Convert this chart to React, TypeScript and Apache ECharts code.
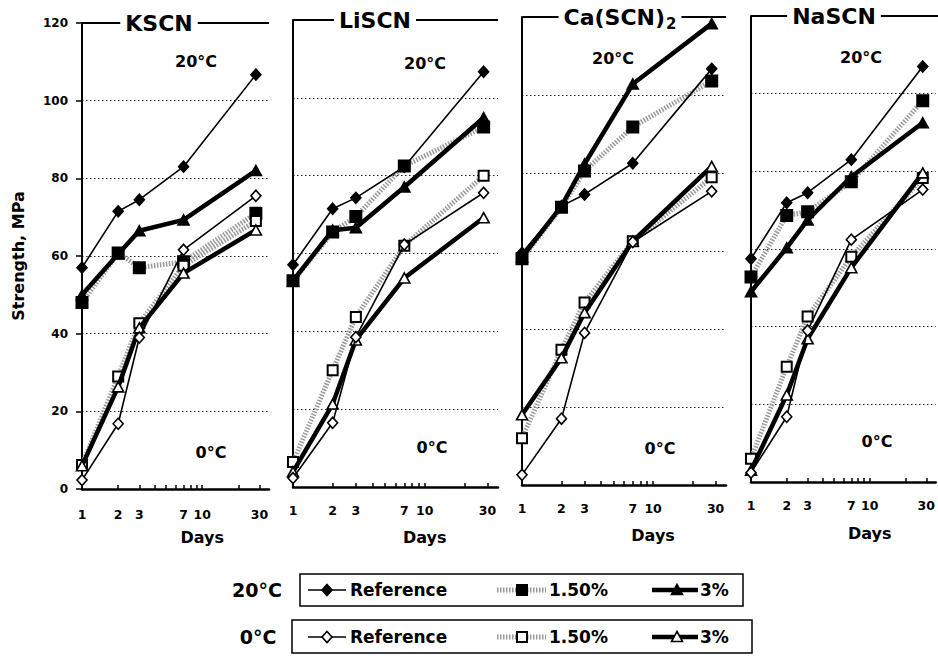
import React, { useEffect, useRef } from "react";
import * as echarts from "echarts";

// Curing age (days) shared by every curve
const days = [1, 2, 3, 7, 28];
const panelNames = ["KSCN", "LiSCN", "Ca(SCN)2", "NaSCN"];
const xTickValues = [1, 2, 3, 4, 5, 6, 7, 8, 9, 10, 20, 30];
const xLabelValues = [1, 2, 3, 7, 10, 30];
const yMin = 0;
const yMax = 120;
const yStep = 20;
const xMax = 36;

// KSCN, strength in MPa
const kscnRef20 = [57, 71.5, 74.5, 83, 106.7];
const kscn15_20 = [48, 60.8, 57, 58.5, 71];
const kscn3_20 = [50, 60.5, 66.5, 69.3, 82];
const kscnRef0 = [2.3, 16.8, 39, 61.6, 75.5];
const kscn15_0 = [6.2, 29, 42.7, 57.5, 69];
const kscn3_0 = [6, 26.3, 41.5, 55.6, 66.7];

// LiSCN
const liscnRef20 = [57.1, 71.5, 74.3, 82.3, 106.7];
const liscn15_20 = [53, 65.5, 69.5, 82.5, 92.5];
const liscn3_20 = [53, 66, 66.6, 77.1, 94.9];
const liscnRef0 = [2.3, 16.5, 38.5, 62.3, 75.6];
const liscn15_0 = [6.4, 30, 43.7, 62, 80];
const liscn3_0 = [3.9, 21.3, 37.8, 53.7, 69.2];

// Ca(SCN)2
const cascnRef20 = [59.5, 71.5, 74.5, 82.5, 106.7];
const cascn15_20 = [58, 71.2, 80.5, 91.8, 103.6];
const cascn3_20 = [58.4, 71.5, 82.3, 102.8, 118.3];
const cascnRef0 = [2.6, 17, 39, 62.3, 75.3];
const cascn15_0 = [12, 34.7, 46.8, 62.5, 78.9];
const cascn3_0 = [18, 32.6, 44.2, 62.5, 81.7];

// NaSCN
const nascnRef20 = [57.5, 71.9, 74.5, 83, 107];
const nascn15_20 = [52.8, 68.6, 69.6, 77.3, 98.2];
const nascn3_20 = [49, 60.3, 67.5, 78.6, 92.5];
const nascnRef0 = [2.4, 16.8, 39, 62.4, 75.3];
const nascn15_0 = [6, 29.7, 42.6, 58, 78.3];
const nascn3_0 = [3, 22.4, 36.9, 55.2, 79.6];

const panelSeries = [
  [kscnRef20, kscn15_20, kscn3_20, kscnRef0, kscn15_0, kscn3_0],
  [liscnRef20, liscn15_20, liscn3_20, liscnRef0, liscn15_0, liscn3_0],
  [cascnRef20, cascn15_20, cascn3_20, cascnRef0, cascn15_0, cascn3_0],
  [nascnRef20, nascn15_20, nascn3_20, nascnRef0, nascn15_0, nascn3_0],
];

// Panel frames and the text placed inside them
const layout = [
  { left: 82, top: 23, width: 187, height: 466, titleX: 159, t20: [196, 61], t0: [211, 452], daysY: 537 },
  { left: 293, top: 20, width: 205, height: 467, titleX: 375, t20: [425, 63], t0: [432, 447], daysY: 537 },
  { left: 522, top: 17, width: 204, height: 468, titleX: 620, t20: [613, 58], t0: [660, 448], daysY: 535 },
  { left: 751, top: 16, width: 187, height: 466, titleX: 834, t20: [861, 57], t0: [877, 441], daysY: 533 },
];

const FONT = '"DejaVu Sans", "Liberation Sans", Arial, sans-serif';
const GRAY = "#999999";
const GRAY_DASH = [1.5, 1.5];
const LEGEND_FONT = 17;

type Kind = "ref" | "p15" | "p3";
const kinds: Kind[] = ["ref", "p15", "p3", "ref", "p15", "p3"];

function seriesStyle(kind: Kind, filled: boolean) {
  const fill = filled ? "#000" : "#fff";
  if (kind === "ref") {
    return {
      symbol: "diamond",
      symbolSize: [10, 11],
      lineStyle: { color: "#000", width: 1.6 },
      itemStyle: { color: fill, borderColor: "#000", borderWidth: 1.6 },
      z: 4,
    };
  }
  if (kind === "p15") {
    return {
      symbol: "rect",
      symbolSize: filled ? 11 : 10,
      lineStyle: { color: GRAY, width: 5, type: GRAY_DASH },
      itemStyle: { color: fill, borderColor: "#000", borderWidth: 2 },
      z: 2,
    };
  }
  return {
    symbol: "triangle",
    symbolSize: [11, 10],
    lineStyle: { color: "#000", width: 4.5 },
    itemStyle: { color: fill, borderColor: "#000", borderWidth: 1.6 },
    z: 3,
  };
}

function legendText(x: number, y: number, text: string) {
  return {
    type: "text",
    x,
    y,
    style: { text, fontFamily: FONT, fontWeight: "bold", fontSize: LEGEND_FONT, fill: "#000", align: "left", verticalAlign: "middle" },
  };
}

function legendGraphics() {
  const els: any[] = [];
  const rows = [
    { label: "20°C", labelX: 257, y: 590, box: [300, 574, 443, 32], filled: true },
    { label: "0°C", labelX: 258, y: 637, box: [292, 620, 460, 33], filled: false },
  ];
  rows.forEach((r) => {
    const fill = r.filled ? "#000" : "#fff";
    els.push({
      type: "text",
      x: r.labelX,
      y: r.y,
      style: { text: r.label, fontFamily: FONT, fontWeight: "bold", fontSize: 19, fill: "#000", align: "center", verticalAlign: "middle" },
    });
    els.push({
      type: "rect",
      shape: { x: r.box[0], y: r.box[1], width: r.box[2], height: r.box[3] },
      style: { fill: "none", stroke: "#000", lineWidth: 1.5 },
    });
    // Reference
    els.push({ type: "line", shape: { x1: 308, y1: r.y, x2: 346, y2: r.y }, style: { stroke: "#000", lineWidth: 1.6 } });
    els.push({
      type: "polygon",
      shape: { points: [[327, r.y - 5.5], [332, r.y], [327, r.y + 5.5], [322, r.y]] },
      style: { fill, stroke: "#000", lineWidth: 1.6 },
    });
    els.push(legendText(350, r.y, "Reference"));
    // 1.50 %
    els.push({ type: "line", shape: { x1: 497, y1: r.y, x2: 546, y2: r.y }, style: { stroke: GRAY, lineWidth: 5, lineDash: GRAY_DASH } });
    els.push({
      type: "rect",
      shape: { x: 517, y: r.y - 5, width: 10, height: 10 },
      style: { fill, stroke: "#000", lineWidth: 2 },
    });
    els.push(legendText(549, r.y, "1.50%"));
    // 3 %
    els.push({ type: "line", shape: { x1: 652, y1: r.y, x2: 698, y2: r.y }, style: { stroke: "#000", lineWidth: 4.5 } });
    els.push({
      type: "polygon",
      shape: { points: [[677, r.y - 5.5], [682.5, r.y + 4.5], [671.5, r.y + 4.5]] },
      style: { fill, stroke: "#000", lineWidth: 1.6 },
    });
    els.push(legendText(700, r.y, "3%"));
  });
  return els;
}

export default function App() {
  const ref = useRef<HTMLDivElement>(null);

  useEffect(() => {
    document.body.style.margin = "0";
    const chart = echarts.init(ref.current!, null, { renderer: "svg" });

    const grid = layout.map((l) => ({ left: l.left, top: l.top, width: l.width, height: l.height }));

    const xAxis = layout.map((_, i) => ({
      type: "log",
      logBase: 10,
      gridIndex: i,
      min: 1,
      max: xMax,
      axisLine: { show: true, lineStyle: { color: "#000", width: 2.5 } },
      axisTick: { show: true, inside: true, length: 4, customValues: xTickValues, lineStyle: { color: "#000", width: 1.5 } },
      axisLabel: {
        show: true,
        customValues: xLabelValues,
        margin: i === 0 ? 19 : 17,
        color: "#000",
        fontFamily: FONT,
        fontWeight: "bold",
        fontSize: 12.5,
        formatter: (v: number) => String(Math.round(v)),
      },
      splitLine: { show: false },
      minorTick: { show: false },
      minorSplitLine: { show: false },
    }));

    const yAxis = layout.map((_, i) => ({
      type: "value",
      gridIndex: i,
      min: yMin,
      max: yMax,
      interval: yStep,
      axisLine: { show: true, lineStyle: { color: "#000", width: 2 } },
      axisTick: { show: i === 0, inside: false, length: 6, lineStyle: { color: "#000", width: 1.5 } },
      axisLabel: {
        show: i === 0,
        margin: 14,
        color: "#000",
        fontFamily: FONT,
        fontWeight: "bold",
        fontSize: 12,
      },
      splitLine: { show: true, lineStyle: { color: "#222", width: 1, type: [1.5, 2.5] } },
    }));

    const series: any[] = [];
    panelSeries.forEach((group, i) => {
      group.forEach((vals, k) => {
        const filled = k < 3;
        series.push({
          type: "line",
          xAxisIndex: i,
          yAxisIndex: i,
          clip: false,
          data: days.map((d, j) => [d, vals[j]]),
          ...seriesStyle(kinds[k], filled),
        });
      });
    });

    chart.setOption({
      animation: false,
      backgroundColor: "#fff",
      grid,
      xAxis,
      yAxis,
      series,
    });

    const graphic: any[] = [];
    layout.forEach((l, i) => {
      // top frame line broken by the salt name
      graphic.push({
        type: "line",
        z: 10,
        shape: { x1: l.left, y1: l.top, x2: l.left + l.width, y2: l.top },
        style: { stroke: "#000", lineWidth: 2 },
      });
      const name = panelNames[i];
      const sub = name.match(/^(.*?)(\d)$/);
      graphic.push({
        type: "text",
        z: 11,
        x: l.titleX,
        y: l.top,
        style: sub
          ? {
              text: `{a|${sub[1]}}{b|${sub[2]}}`,
              rich: {
                a: { fontFamily: FONT, fontWeight: "bold", fontSize: 22, fill: "#000", lineHeight: 26 },
                b: { fontFamily: FONT, fontWeight: "bold", fontSize: 15, fill: "#000", verticalAlign: "bottom", padding: [13, 0, 0, 1] },
              },
              align: "center",
              verticalAlign: "middle",
              backgroundColor: "#fff",
              padding: [0, 5],
            }
          : {
              text: name,
              fontFamily: FONT,
              fontWeight: "bold",
              fontSize: 22,
              fill: "#000",
              align: "center",
              verticalAlign: "middle",
              backgroundColor: "#fff",
              padding: [0, 5],
            },
      });
      graphic.push({
        type: "text",
        x: l.t20[0],
        y: l.t20[1],
        style: { text: "20°C", fontFamily: FONT, fontWeight: "bold", fontSize: 16, fill: "#000", align: "center", verticalAlign: "middle" },
      });
      graphic.push({
        type: "text",
        x: l.t0[0],
        y: l.t0[1],
        style: { text: "0°C", fontFamily: FONT, fontWeight: "bold", fontSize: 16, fill: "#000", align: "center", verticalAlign: "middle" },
      });
      const p = chart.convertToPixel({ xAxisIndex: i }, 10) as number;
      graphic.push({
        type: "text",
        x: p,
        y: l.daysY,
        style: { text: "Days", fontFamily: FONT, fontWeight: "bold", fontSize: 16, fill: "#000", align: "center", verticalAlign: "middle" },
      });
    });
    graphic.push({
      type: "text",
      x: 18,
      y: 256,
      rotation: Math.PI / 2,
      style: { text: "Strength, MPa", fontFamily: FONT, fontWeight: "bold", fontSize: 16, fill: "#000", align: "center", verticalAlign: "middle" },
    });
    graphic.push(...legendGraphics());

    chart.setOption({ graphic });

    return () => chart.dispose();
  }, []);

  return <div ref={ref} style={{ width: 938, height: 658 }} />;
}
